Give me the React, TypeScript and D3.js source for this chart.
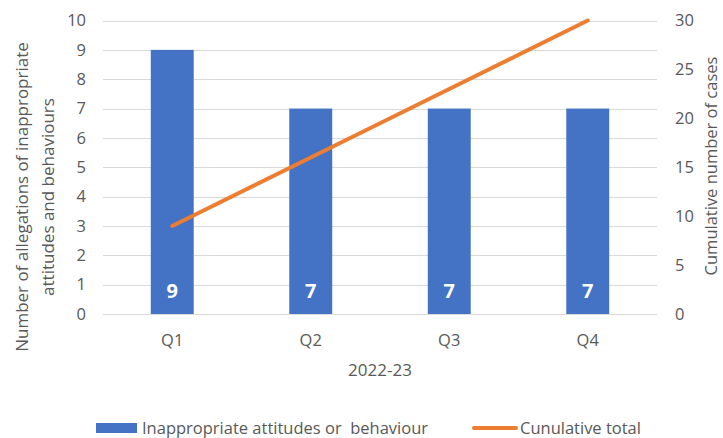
import React from "react";
import * as d3 from "d3";

const categories = ["Q1", "Q2", "Q3", "Q4"];
const barValues = [9, 7, 7, 7];
const cumulativeValues = [9, 16, 23, 30];
const leftTicks = [0, 1, 2, 3, 4, 5, 6, 7, 8, 9, 10];
const rightTicks = [0, 5, 10, 15, 20, 25, 30];
const barSeriesName = "Inappropriate attitudes or  behaviour";
const lineSeriesName = "Cunulative total";
const xTitle = "2022-23";
const leftTitle = ["Number of allegations of inappropriate", "attitudes and behaviours"];
const rightTitle = "Cumulative number of cases";

const W = 723;
const H = 438;
const FONT = "'Open Sans', sans-serif";
const GRAY = "#595959";

export default function App() {
  const left = 103, right = 657, top = 20.5, bottom = 314;
  const x = d3.scaleBand<string>().domain(categories).range([left, right]).paddingInner(0.69).paddingOuter(0.345);
  const yL = d3.scaleLinear().domain([0, 10]).range([bottom, top]);
  const yR = d3.scaleLinear().domain([0, 30]).range([bottom, top]);
  const line = d3
    .line<number>()
    .x((_, i) => (x(categories[i]) as number) + x.bandwidth() / 2)
    .y((d) => yR(d));

  return (
    <svg width={W} height={H} style={{ position: "absolute", left: 0, top: 0, background: "#fff" }} fontFamily={FONT}>
      {leftTicks.map((t) => (
        <line key={"g" + t} x1={left} x2={right} y1={Math.round(yL(t)) + 0.5} y2={Math.round(yL(t)) + 0.5} stroke="#d9d9d9" strokeWidth={1} />
      ))}
      {categories.map((c, i) => (
        <rect key={c} x={x(c)} y={yL(barValues[i])} width={x.bandwidth()} height={bottom - yL(barValues[i])} fill="#4472C4" />
      ))}
      {categories.map((c, i) => (
        <text key={"v" + c} x={(x(c) as number) + x.bandwidth() / 2} y={297.5} textAnchor="middle" fill="#fff" fontWeight="bold" fontSize={20}>
          {barValues[i]}
        </text>
      ))}
      <path d={line(cumulativeValues) || ""} fill="none" stroke="#ED7D31" strokeWidth={4} strokeLinecap="round" />
      {leftTicks.map((t) => (
        <text key={"l" + t} x={86} y={yL(t)} dy="0.35em" textAnchor="end" fill={GRAY} fontSize={16.5}>
          {t}
        </text>
      ))}
      {rightTicks.map((t) => (
        <text key={"r" + t} x={675} y={yR(t)} dy="0.35em" textAnchor="start" fill={GRAY} fontSize={16.5}>
          {t}
        </text>
      ))}
      {categories.map((c) => (
        <text key={"c" + c} x={(x(c) as number) + x.bandwidth() / 2} y={340} dy="0.35em" textAnchor="middle" fill={GRAY} fontSize={16.5}>
          {c}
        </text>
      ))}
      <text x={380} y={370} dy="0.35em" textAnchor="middle" fill={GRAY} fontSize={17}>
        {xTitle}
      </text>
      <text transform="translate(22,197) rotate(-90)" textAnchor="middle" dy="0.35em" fill={GRAY} fontSize={17}>
        {leftTitle[0]}
      </text>
      <text transform="translate(48,197) rotate(-90)" textAnchor="middle" dy="0.35em" fill={GRAY} fontSize={17}>
        {leftTitle[1]}
      </text>
      <text transform="translate(711,166) rotate(-90)" textAnchor="middle" dy="0.35em" fill={GRAY} fontSize={16.5}>
        {rightTitle}
      </text>
      <rect x={96} y={423} width={41} height={10} fill="#4472C4" />
      <text x={142} y={428} dy="0.35em" fill={GRAY} fontSize={16.5} style={{ whiteSpace: "pre" }}>
        {barSeriesName}
      </text>
      <line x1={474} x2={516} y1={428} y2={428} stroke="#ED7D31" strokeWidth={4} strokeLinecap="round" />
      <text x={520} y={428} dy="0.35em" fill={GRAY} fontSize={16.5}>
        {lineSeriesName}
      </text>
    </svg>
  );
}
